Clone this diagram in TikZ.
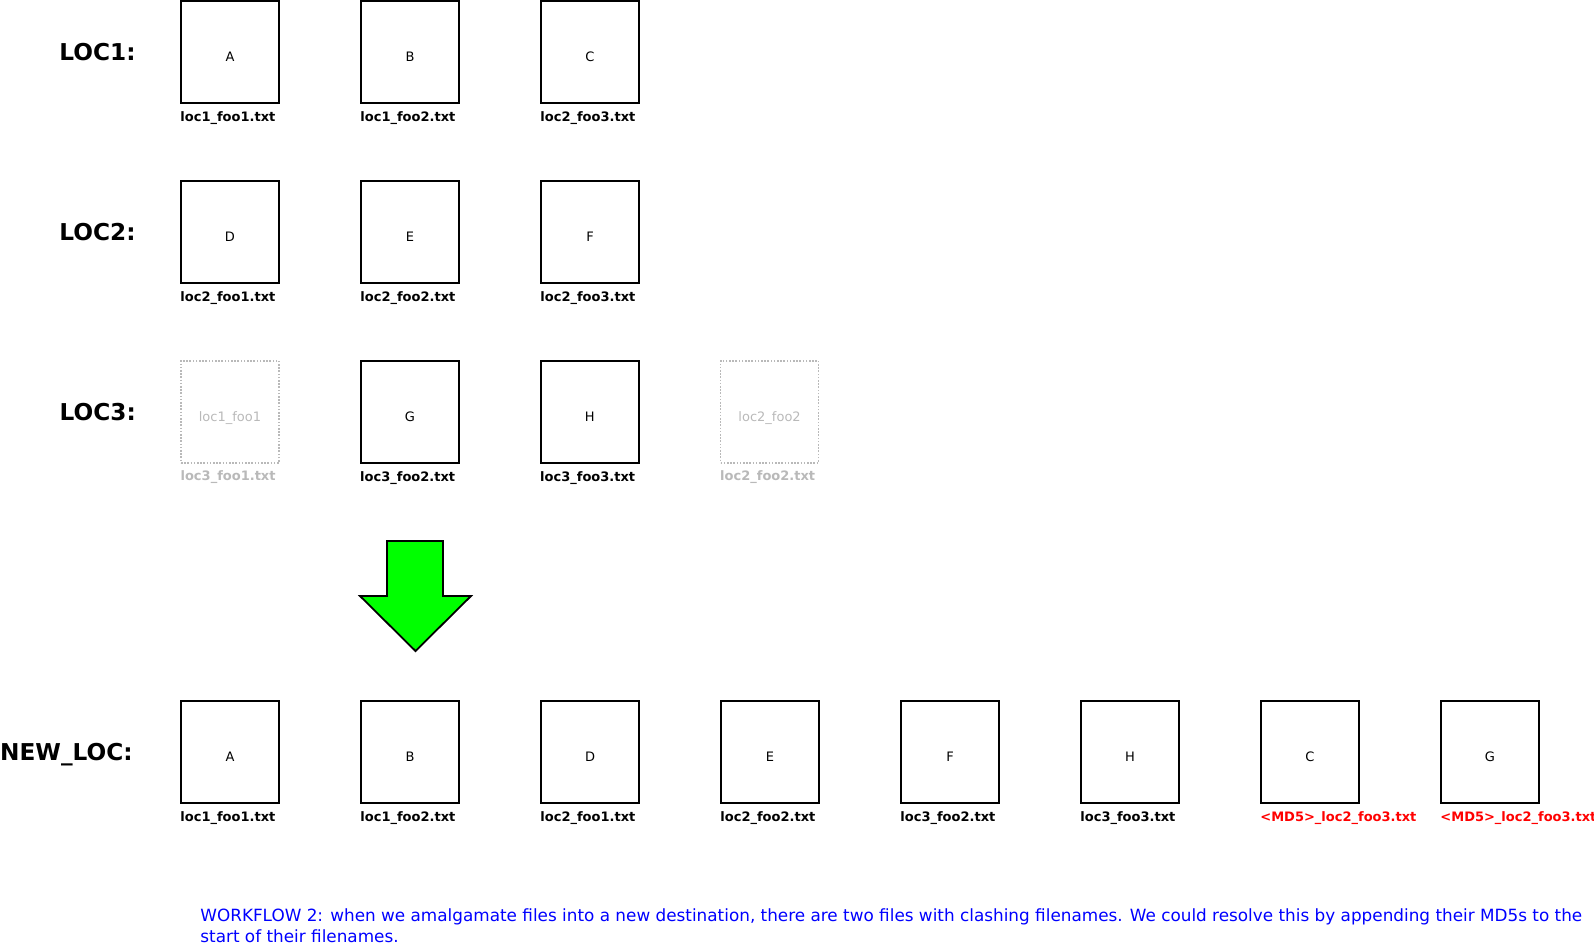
\documentclass[tikz,border=0pt]{standalone}
\usepackage{fontspec}
\setmainfont{DejaVu Sans}
\usetikzlibrary{positioning}
\definecolor{ghostgray}{RGB}{185,185,185}
\definecolor{clashred}{RGB}{255,0,0}
\definecolor{mergegreen}{RGB}{0,255,0}
\definecolor{noteblue}{RGB}{0,0,255}
\tikzset{
	filebox/.style={rectangle, draw=black, line width=1pt, minimum width=49pt, minimum height=51pt, inner sep=0pt, text height=9.2pt, text depth=0pt, font=\fontsize{6.5}{8}\selectfont},
	ghostbox/.style={filebox, draw=ghostgray, line width=0.8pt, dash pattern=on 0.8pt off 0.8pt, text=ghostgray},
	fname/.style={inner sep=0pt, font=\fontsize{6.5}{8}\selectfont\bfseries},
	locname/.style={inner sep=0pt, text depth=0pt, font=\fontsize{11.6}{13}\selectfont\bfseries}
}
\begin{document}
\begin{tikzpicture}[
		x=0.5pt, y=-0.5pt,
		node distance=38pt and 40pt,
		mergearrow/.style={draw=black, line width=0.9pt, fill=mergegreen, line join=miter},
		note/.style={inner sep=0pt, align=left, text=noteblue, font=\fontsize{8.42}{10.4}\selectfont}
		]
		\useasboundingbox (0,0) rectangle (1594,947);
		
		% LOC1
		\node[filebox] (a1) at (230,52) {A};
		\node[filebox, right=of a1] (b1) {B};
		\node[filebox, right=of b1] (c1) {C};
		\node[locname, left=22pt of a1] (loc1) {LOC1:};
		\node[fname, below right=3.5pt and 0pt of a1.south west] (a1name) {loc1\_foo1.txt};
		\node[fname, below right=3.5pt and 0pt of b1.south west] (b1name) {loc1\_foo2.txt};
		\node[fname, below right=3.5pt and 0pt of c1.south west] (c1name) {loc2\_foo3.txt};
		
		% LOC2
		\node[filebox, below=of a1] (d2) {D};
		\node[filebox, right=of d2] (e2) {E};
		\node[filebox, right=of e2] (f2) {F};
		\node[locname, left=22pt of d2] (loc2) {LOC2:};
		\node[fname, below right=3.5pt and 0pt of d2.south west] (d2name) {loc2\_foo1.txt};
		\node[fname, below right=3.5pt and 0pt of e2.south west] (e2name) {loc2\_foo2.txt};
		\node[fname, below right=3.5pt and 0pt of f2.south west] (f2name) {loc2\_foo3.txt};
		
		% LOC3
		\node[ghostbox, below=of d2] (ghost1) {loc1\_foo1};
		\node[filebox, right=of ghost1] (g3) {G};
		\node[filebox, right=of g3] (h3) {H};
		\node[ghostbox, right=of h3] (ghost2) {loc2\_foo2};
		\node[locname, left=22pt of ghost1] (loc3) {LOC3:};
		\node[fname, text=ghostgray, below right=3.5pt and 0pt of ghost1.south west] (ghost1name) {loc3\_foo1.txt};
		\node[fname, below right=3.5pt and 0pt of g3.south west] (g3name) {loc3\_foo2.txt};
		\node[fname, below right=3.5pt and 0pt of h3.south west] (h3name) {loc3\_foo3.txt};
		\node[fname, text=ghostgray, below right=3.5pt and 0pt of ghost2.south west] (ghost2name) {loc2\_foo2.txt};
		
		% merge arrow
		\draw[mergearrow] (387,541) -- (443,541) -- (443,596) -- (471,596) -- (415.5,651) -- (360,596) -- (387,596) -- cycle;
		
		% NEW_LOC
		\node[filebox, below=118.3pt of ghost1] (nA) {A};
		\node[filebox, right=of nA] (nB) {B};
		\node[filebox, right=of nB] (nD) {D};
		\node[filebox, right=of nD] (nE) {E};
		\node[filebox, right=of nE] (nF) {F};
		\node[filebox, right=of nF] (nH) {H};
		\node[filebox, right=of nH] (nC) {C};
		\node[filebox, right=of nC] (nG) {G};
		\node[locname, left=23.5pt of nA] (newloc) {NEW\_LOC:};
		\node[fname, below right=3.5pt and 0pt of nA.south west] (nAname) {loc1\_foo1.txt};
		\node[fname, below right=3.5pt and 0pt of nB.south west] (nBname) {loc1\_foo2.txt};
		\node[fname, below right=3.5pt and 0pt of nD.south west] (nDname) {loc2\_foo1.txt};
		\node[fname, below right=3.5pt and 0pt of nE.south west] (nEname) {loc2\_foo2.txt};
		\node[fname, below right=3.5pt and 0pt of nF.south west] (nFname) {loc3\_foo2.txt};
		\node[fname, below right=3.5pt and 0pt of nH.south west] (nHname) {loc3\_foo3.txt};
		\node[fname, text=clashred, below right=3.5pt and 0pt of nC.south west] (nCname) {<MD5>\_loc2\_foo3.txt};
		\node[fname, text=clashred, below right=3.5pt and 0pt of nG.south west] (nGname) {<MD5>\_loc2\_foo3.txt};
		
		\node[note, anchor=north west] (workflow) at (200,908) {WORKFLOW 2: when we amalgamate files into a new destination, there are two files with clashing filenames. We could resolve this by appending their MD5s to the\\start of their filenames.};
		
	\end{tikzpicture}
\end{document}
